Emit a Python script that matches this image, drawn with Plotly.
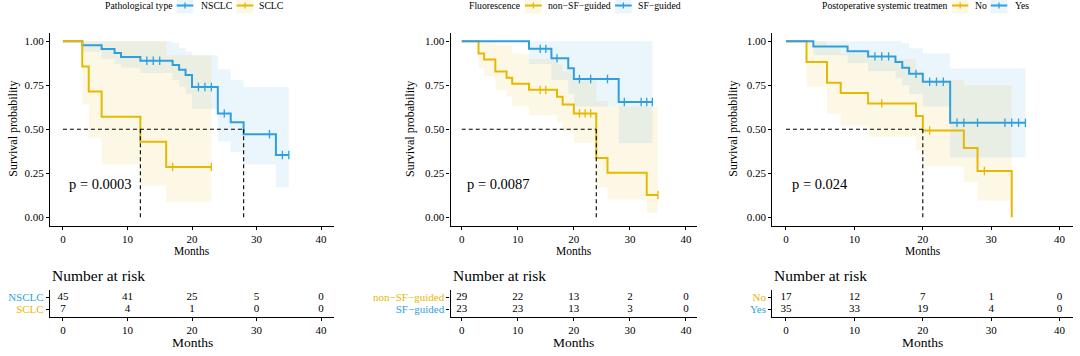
import numpy as np
import plotly.graph_objects as go

W, H = 1080, 356
BLUE = "#2E9FDF"
YELLOW = "#E7B800"
FILLS = {BLUE: "rgba(46,159,223,0.10)", YELLOW: "rgba(231,184,0,0.10)"}
FONT = "Liberation Serif"

# ---------------- data ----------------
# Panel 1: Pathological type
p1_nsclc_time = [0, 3, 6, 8, 9, 12, 17, 18, 19, 20, 24, 26, 28, 33]
p1_nsclc_surv = [1, 0.978, 0.956, 0.933, 0.911, 0.889, 0.865, 0.838, 0.808, 0.740, 0.590, 0.540, 0.472, 0.354]
p1_nsclc_upper = [1, 1, 1, 1, 1, 1, 0.99, 0.96, 0.94, 0.92, 0.84, 0.78, 0.74, 0.74]
p1_nsclc_lower = [1, 0.94, 0.90, 0.87, 0.85, 0.82, 0.78, 0.74, 0.70, 0.615, 0.43, 0.37, 0.30, 0.17]
p1_nsclc_censor = [13, 14, 15, 21, 22, 23, 25, 32, 34, 35]
p1_nsclc_end = 35

p1_sclc_time = [0, 3, 4, 6, 12, 16]
p1_sclc_surv = [1, 0.857, 0.714, 0.571, 0.429, 0.286]
p1_sclc_upper = [1, 1, 1, 1, 1, 0.92]
p1_sclc_lower = [1, 0.64, 0.45, 0.30, 0.18, 0.087]
p1_sclc_censor = [17, 23]
p1_sclc_end = 23

p1_medians = [12, 28]
p1_pval = "p = 0.0003"
p1_legend_title = "Pathological type"
p1_groups = ["NSCLC", "SCLC"]
p1_risk = [[45, 41, 25, 5, 0], [7, 4, 1, 0, 0]]

# Panel 2: Fluorescence
p2_non_time = [0, 3, 4, 6, 8, 9, 12, 17, 18, 20, 24, 26, 33]
p2_non_surv = [1, 0.931, 0.897, 0.828, 0.793, 0.759, 0.724, 0.685, 0.640, 0.590, 0.337, 0.253, 0.126]
p2_non_upper = [1, 1, 1, 0.98, 0.98, 0.93, 0.90, 0.87, 0.83, 0.79, 0.66, 0.63, 0.63]
p2_non_lower = [1, 0.846, 0.80, 0.72, 0.685, 0.63, 0.58, 0.54, 0.486, 0.423, 0.17, 0.10, 0.025]
p2_non_censor = [14, 15, 21, 22, 23, 35]
p2_non_end = 35

p2_sf_time = [0, 12, 16, 19, 20, 28]
p2_sf_surv = [1, 0.957, 0.903, 0.847, 0.786, 0.655]
p2_sf_upper = [1, 1, 1, 1, 1, 1]
p2_sf_lower = [1, 0.87, 0.78, 0.70, 0.63, 0.42]
p2_sf_censor = [14, 15, 17, 21, 23, 26, 29, 32, 33, 34]
p2_sf_end = 34

p2_medians = [24]
p2_pval = "p = 0.0087"
p2_legend_title = "Fluorescence"
p2_groups = ["non\u2212SF\u2212guided", "SF\u2212guided"]
p2_risk = [[29, 22, 13, 2, 0], [23, 23, 13, 3, 0]]

# Panel 3: Postoperative systemic treatment
p3_no_time = [0, 3, 6, 8, 12, 19, 20, 26, 28, 33]
p3_no_surv = [1, 0.882, 0.765, 0.706, 0.647, 0.575, 0.493, 0.394, 0.263, 0]
p3_no_upper = [1, 1, 0.97, 0.93, 0.90, 0.83, 0.78, 0.75, 0.75, 0.75]
p3_no_lower = [1, 0.742, 0.586, 0.52, 0.457, 0.38, 0.29, 0.20, 0.093, 0.093]
p3_no_censor = [14, 21, 29]
p3_no_end = 33

p3_yes_time = [0, 4, 9, 12, 16, 17, 18, 20, 24]
p3_yes_surv = [1, 0.971, 0.943, 0.914, 0.883, 0.850, 0.815, 0.770, 0.537]
p3_yes_upper = [1, 1, 1, 1, 1, 0.99, 0.96, 0.93, 0.846]
p3_yes_lower = [1, 0.92, 0.875, 0.83, 0.79, 0.75, 0.70, 0.63, 0.34]
p3_yes_censor = [13, 14, 15, 19, 21, 22, 23, 25, 26, 28, 32, 33, 34, 35]
p3_yes_end = 35

p3_medians = [20]
p3_pval = "p = 0.024"
p3_legend_title = "Postoperative systemic treatmen"
p3_groups = ["No", "Yes"]
p3_risk = [[17, 12, 7, 1, 0], [35, 33, 19, 4, 0]]

risk_times = [0, 10, 20, 30, 40]
y_ticks = [0, 0.25, 0.5, 0.75, 1.0]
x_ticks = [0, 10, 20, 30, 40]

# ---------------- layout geometry (pixels) ----------------
panels = [
    dict(dom=(50, 334),
         groups=[(p1_nsclc_time, p1_nsclc_surv, p1_nsclc_upper, p1_nsclc_lower, p1_nsclc_censor, p1_nsclc_end, BLUE),
                 (p1_sclc_time, p1_sclc_surv, p1_sclc_upper, p1_sclc_lower, p1_sclc_censor, p1_sclc_end, YELLOW)],
         medians=p1_medians, pval=p1_pval, title=p1_legend_title, labels=p1_groups,
         label_colors=[BLUE, YELLOW], risk=p1_risk,
         ylab_x=12.7, title_x=103.3, keys=[(176.7, 193.3), (236.7, 253.3)], lab_x=[199.3, 257]),
    dict(dom=(450.5, 697.2),
         groups=[(p2_non_time, p2_non_surv, p2_non_upper, p2_non_lower, p2_non_censor, p2_non_end, YELLOW),
                 (p2_sf_time, p2_sf_surv, p2_sf_upper, p2_sf_lower, p2_sf_censor, p2_sf_end, BLUE)],
         medians=p2_medians, pval=p2_pval, title=p2_legend_title, labels=p2_groups,
         label_colors=[YELLOW, BLUE], risk=p2_risk,
         ylab_x=410, title_x=467.3, keys=[(525, 541.7), (615, 631.7)], lab_x=[545.7, 636]),
    dict(dom=(772.3, 1073.3),
         groups=[(p3_no_time, p3_no_surv, p3_no_upper, p3_no_lower, p3_no_censor, p3_no_end, YELLOW),
                 (p3_yes_time, p3_yes_surv, p3_yes_upper, p3_yes_lower, p3_yes_censor, p3_yes_end, BLUE)],
         medians=p3_medians, pval=p3_pval, title=p3_legend_title, labels=p3_groups,
         label_colors=[YELLOW, BLUE], risk=p3_risk,
         ylab_x=732.7, title_x=820, keys=[(952, 968.3), (990.7, 1007.3)], lab_x=[973.3, 1012.7]),
]

KM_Y = (32.5, 226.0)
RISK_Y = (290.1, 316.6)


def px(x):
    return x / W


def py(y):
    return 1 - y / H


def aname(prefix, i):
    return prefix if i == 1 else f"{prefix}{i}"


fig = go.Figure()
annotations = []
shapes = []
layout_axes = {}

axis_common = dict(showgrid=False, zeroline=False, showline=True, linecolor="black",
                   linewidth=1.3, ticks="outside", ticklen=3, tickwidth=1.1,
                   tickcolor="black", tickfont=dict(family=FONT, size=11, color="black"))

for k, p in enumerate(panels):
    km, rk = 2 * k + 1, 2 * k + 2
    xk, yk = aname("x", km), aname("y", km)
    xr, yr = aname("x", rk), aname("y", rk)
    dom = [px(p["dom"][0]), px(p["dom"][1])]

    layout_axes[aname("xaxis", km)] = dict(axis_common, domain=dom, range=[-2, 42],
                                           tickvals=x_ticks, anchor=yk)
    layout_axes[aname("yaxis", km)] = dict(axis_common, domain=[py(KM_Y[1]), py(KM_Y[0])],
                                           range=[-0.05, 1.05], tickvals=y_ticks,
                                           tickformat=".2f", anchor=xk)
    layout_axes[aname("xaxis", rk)] = dict(axis_common, domain=dom, range=[-2, 42],
                                           tickvals=x_ticks, anchor=yr)
    layout_axes[aname("yaxis", rk)] = dict(
        axis_common, domain=[py(RISK_Y[1]), py(RISK_Y[0])], range=[0.4, 2.6],
        tickvals=[2, 1],
        ticktext=[f"<span style='color:{c}'>{lab}</span>" for lab, c in zip(p["labels"], p["label_colors"])],
        anchor=xr)

    # confidence bands
    for (t, s, up, lo, cen, end, col) in p["groups"]:
        bx = list(t) + [end]
        fig.add_trace(go.Scatter(x=bx, y=list(up) + [up[-1]], mode="lines",
                                 line=dict(width=0, shape="hv"), hoverinfo="skip",
                                 xaxis=xk, yaxis=yk))
        fig.add_trace(go.Scatter(x=bx, y=list(lo) + [lo[-1]], mode="lines",
                                 line=dict(width=0, shape="hv"), fill="tonexty",
                                 fillcolor=FILLS[col], hoverinfo="skip",
                                 xaxis=xk, yaxis=yk))
    # survival curves and censor marks
    for (t, s, up, lo, cen, end, col) in p["groups"]:
        fig.add_trace(go.Scatter(x=list(t) + [end], y=list(s) + [s[-1]], mode="lines",
                                 line=dict(color=col, width=2, shape="hv"),
                                 xaxis=xk, yaxis=yk))
        idx = np.searchsorted(np.array(t, dtype=float), np.array(cen, dtype=float), side="right") - 1
        cy = [s[i] for i in idx]
        fig.add_trace(go.Scatter(x=cen, y=cy, mode="markers",
                                 marker=dict(symbol="line-ns", size=6,
                                             line=dict(color=col, width=1.3)),
                                 xaxis=xk, yaxis=yk))
    # median lines
    med = p["medians"]
    fig.add_trace(go.Scatter(x=[0, max(med)], y=[0.5, 0.5], mode="lines",
                             line=dict(color="black", width=1.1, dash="4px,3px"),
                             xaxis=xk, yaxis=yk))
    for m in med:
        fig.add_trace(go.Scatter(x=[m, m], y=[0.5, 0], mode="lines",
                                 line=dict(color="black", width=1.1, dash="4px,3px"),
                                 xaxis=xk, yaxis=yk))

    # risk table numbers
    for row, vals in zip([2, 1], p["risk"]):
        fig.add_trace(go.Scatter(x=risk_times, y=[row] * len(vals), mode="text",
                                 text=[str(v) for v in vals],
                                 textfont=dict(family=FONT, size=11, color="black"),
                                 xaxis=xr, yaxis=yr))

    # p-value
    annotations.append(dict(x=0.6, y=0.19, xref=xk, yref=yk, text=p["pval"],
                            showarrow=False, xanchor="left", yanchor="middle",
                            font=dict(family=FONT, size=14.5, color="black")))
    # axis titles
    annotations.append(dict(x=20, xref=xk, y=py(251), yref="paper", text="Months",
                            showarrow=False, xanchor="center", yanchor="middle",
                            font=dict(family=FONT, size=11.5, color="black")))
    annotations.append(dict(x=px(p["ylab_x"]), xref="paper", y=py(129), yref="paper",
                            text="Survival probability", textangle=-90, showarrow=False,
                            xanchor="center", yanchor="middle",
                            font=dict(family=FONT, size=12, color="black")))
    annotations.append(dict(x=px(p["dom"][0]), xref="paper", y=py(275), yref="paper",
                            text="Number at risk", showarrow=False, xanchor="left",
                            yanchor="middle", font=dict(family=FONT, size=15.5, color="black")))
    annotations.append(dict(x=20, xref=xr, y=py(342), yref="paper", text="Months",
                            showarrow=False, xanchor="center", yanchor="middle",
                            font=dict(family=FONT, size=13.5, color="black")))

    # legend (drawn manually)
    ly = 5.5
    annotations.append(dict(x=px(p["title_x"]), xref="paper", y=py(ly), yref="paper",
                            text=p["title"], showarrow=False, xanchor="left", yanchor="middle",
                            font=dict(family=FONT, size=9.7, color="black")))
    for (kx0, kx1), lx, lab, col in zip(p["keys"], p["lab_x"], p["labels"], p["label_colors"]):
        shapes.append(dict(type="rect", xref="paper", yref="paper", x0=px(kx0), x1=px(kx1),
                           y0=py(13.5), y1=py(0), fillcolor=FILLS[col], line=dict(width=0),
                           layer="below"))
        shapes.append(dict(type="line", xref="paper", yref="paper", x0=px(kx0), x1=px(kx1),
                           y0=py(ly), y1=py(ly), line=dict(color=col, width=2)))
        cx = (kx0 + kx1) / 2
        shapes.append(dict(type="line", xref="paper", yref="paper", x0=px(cx), x1=px(cx),
                           y0=py(ly - 3), y1=py(ly + 3), line=dict(color=col, width=1.3)))
        annotations.append(dict(x=px(lx), xref="paper", y=py(ly), yref="paper", text=lab,
                                showarrow=False, xanchor="left", yanchor="middle",
                                font=dict(family=FONT, size=9.7, color="black")))

fig.update_layout(width=W, height=H, margin=dict(l=0, r=0, t=0, b=0),
                  paper_bgcolor="white", plot_bgcolor="white", showlegend=False,
                  annotations=annotations, shapes=shapes, **layout_axes)

fig.write_html("out.html", config={"displayModeBar": False},
               post_script="document.body.style.margin='0';document.body.style.overflow='hidden';")
